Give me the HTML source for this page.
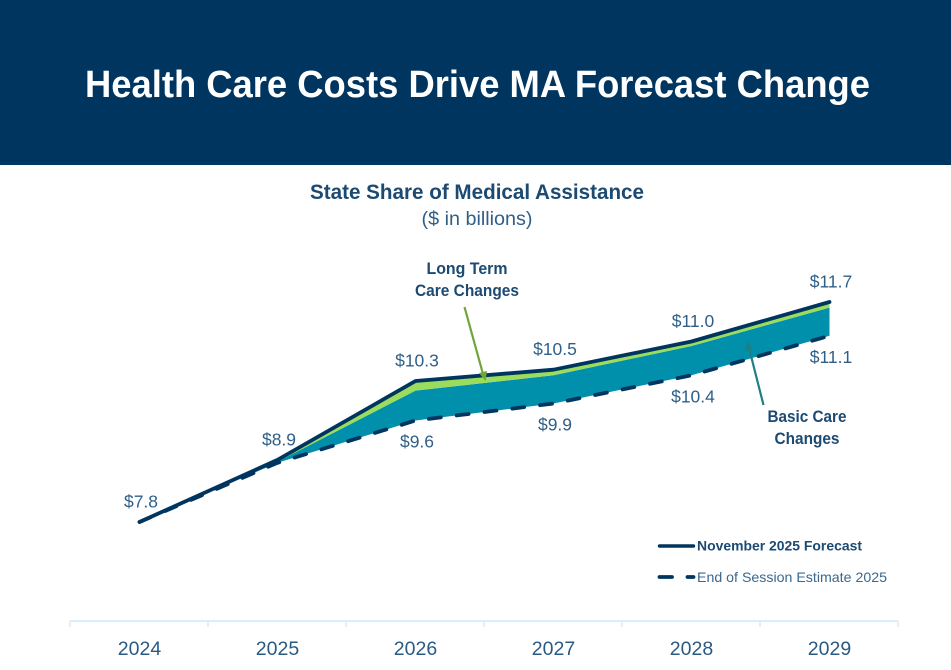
<!DOCTYPE html>
<html lang="en">
<head>
<meta charset="utf-8">
<title>Health Care Costs Drive MA Forecast Change</title>
<style>
  html, body { margin: 0; padding: 0; background: #fff; }
  svg { display: block; font-family: "Liberation Sans", sans-serif; }
</style>
</head>
<body>
<svg id="chart" xmlns="http://www.w3.org/2000/svg" width="951" height="670" viewBox="0 0 951 670">
  <rect x="0" y="0" width="951" height="670" fill="#ffffff"/>
  <rect x="0" y="0" width="951" height="165" fill="#00355f"/>
  <text x="477.5" y="97" text-anchor="middle" font-size="38" font-weight="700" fill="#ffffff" textLength="785" lengthAdjust="spacingAndGlyphs">Health Care Costs Drive MA Forecast Change</text>
  <text x="477" y="199" text-anchor="middle" font-size="21" font-weight="700" fill="#1c4a72" textLength="334" lengthAdjust="spacingAndGlyphs">State Share of Medical Assistance</text>
  <text x="477" y="225" text-anchor="middle" font-size="19" fill="#2f5f88" textLength="111" lengthAdjust="spacingAndGlyphs">($ in billions)</text>

  <g id="plot"></g>

  <text x="467" y="274" text-anchor="middle" font-size="16.5" font-weight="700" fill="#1c4a72" textLength="81" lengthAdjust="spacingAndGlyphs">Long Term</text>
  <text x="467" y="296" text-anchor="middle" font-size="16.5" font-weight="700" fill="#1c4a72" textLength="104" lengthAdjust="spacingAndGlyphs">Care Changes</text>
  <line x1="464.5" y1="307" x2="483" y2="374" stroke="#6fa53a" stroke-width="2.2"/>
  <polygon points="485.5,381 479,373 487,371" fill="#6fa53a"/>

  <text x="807" y="422" text-anchor="middle" font-size="16.5" font-weight="700" fill="#1c4a72" textLength="79" lengthAdjust="spacingAndGlyphs">Basic Care</text>
  <text x="807" y="444" text-anchor="middle" font-size="16.5" font-weight="700" fill="#1c4a72" textLength="65" lengthAdjust="spacingAndGlyphs">Changes</text>
  <line x1="763.5" y1="405" x2="749" y2="348" stroke="#1f7f86" stroke-width="2.2"/>
  <polygon points="747,341 753,349 745,351" fill="#1f7f86"/>

  <line x1="659.5" y1="546" x2="693.5" y2="546" stroke="#00355f" stroke-width="3.4" stroke-linecap="round"/>
  <text x="697" y="550.5" font-size="14" font-weight="700" fill="#1c4a72" textLength="165" lengthAdjust="spacingAndGlyphs">November 2025 Forecast</text>
  <line x1="659.5" y1="577" x2="672" y2="577" stroke="#00355f" stroke-width="3.8" stroke-linecap="round"/>
  <line x1="687.5" y1="577" x2="693.5" y2="577" stroke="#00355f" stroke-width="3.8" stroke-linecap="round"/>
  <text x="697" y="582" font-size="14" fill="#3a6890" textLength="190" lengthAdjust="spacingAndGlyphs">End of Session Estimate 2025</text>
</svg>

<script>
const years = ['2024', '2025', '2026', '2027', '2028', '2029'];
const forecast = [7.8, 8.9, 10.3, 10.5, 11.0, 11.7];
const longTermBoundary = [7.8, 8.87, 10.13, 10.4, 10.92, 11.6];
const sessionEstimate = [7.8, 8.85, 9.6, 9.9, 10.4, 11.1];
const forecastLabels = ['$7.8', '$8.9', '$10.3', '$10.5', '$11.0', '$11.7'];
const estimateLabels = ['', '', '$9.6', '$9.9', '$10.4', '$11.1'];

const NS = 'http://www.w3.org/2000/svg';
const plot = document.getElementById('plot');
const bandLeft = 70;
const bandWidth = 138;
const axisY = 621;

function xAt(i) {
  return bandLeft + bandWidth * (i + 0.5) + 0.5;
}
function yAt(value) {
  return 522 - (value - 7.8) * 56.41;
}
function make(tag, attrs) {
  const el = document.createElementNS(NS, tag);
  for (const key in attrs) el.setAttribute(key, attrs[key]);
  plot.appendChild(el);
  return el;
}
function linePoints(series) {
  return series.map(function (v, i) { return xAt(i).toFixed(1) + ',' + yAt(v).toFixed(1); });
}
function bandPoints(upper, lower) {
  return linePoints(upper).concat(linePoints(lower).reverse()).join(' ');
}

const basicBand = make('polygon', { points: bandPoints(longTermBoundary, sessionEstimate), fill: '#0090ab' });



const ltcBand = make('polygon', { points: bandPoints(forecast, longTermBoundary), fill: '#9cdc5c' });



const estimateLine = make('polyline', {
  points: linePoints(sessionEstimate).join(' '),
  fill: 'none', stroke: '#00355f', 'stroke-width': 3.8,
  'stroke-dasharray': '12 16', 'stroke-linecap': 'round'
});



const forecastLine = make('polyline', {
  points: linePoints(forecast).join(' '),
  fill: 'none', stroke: '#00355f', 'stroke-width': 3.8,
  'stroke-linecap': 'round', 'stroke-linejoin': 'round'
});



forecastLabels.forEach(function (label, i) {
  const t = make('text', {
    x: xAt(i) + 1.5, y: yAt(forecast[i]) - 14.5,
    'text-anchor': 'middle', 'font-size': 17.5, fill: '#2f5f88'
  });
  
  
  t.textContent = label;
});

estimateLabels.forEach(function (label, i) {
  if (!label) return;
  const t = make('text', {
    x: xAt(i) + 1.5, y: yAt(sessionEstimate[i]) + 27,
    'text-anchor': 'middle', 'font-size': 17.5, fill: '#2f5f88'
  });
  
  
  t.textContent = label;
});

const axisLine = make('line', {
  x1: bandLeft, y1: axisY, x2: bandLeft + bandWidth * years.length, y2: axisY,
  stroke: '#d6ebfd', 'stroke-width': 1.8
});



for (let i = 0; i <= years.length; i++) {
  const tick = make('line', {
    x1: bandLeft + bandWidth * i, y1: axisY, x2: bandLeft + bandWidth * i, y2: axisY + 6,
    stroke: '#d6ebfd', 'stroke-width': 1.6
  });
  
  
}

years.forEach(function (year, i) {
  const t = make('text', {
    x: xAt(i), y: 655,
    'text-anchor': 'middle', 'font-size': 19.5, fill: '#2a5a84'
  });
  
  
  t.textContent = year;
});
</script>
</body>
</html>
